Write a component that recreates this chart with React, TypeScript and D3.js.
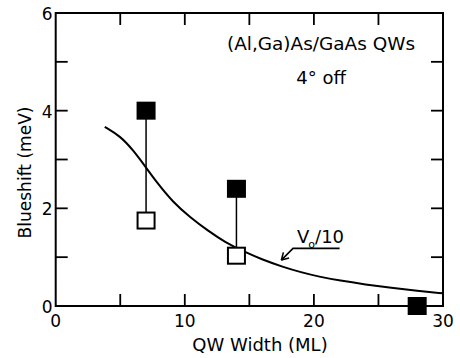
import React from "react";
import * as d3 from "d3";

// measured points (QW width in ML, blueshift in meV)
const widths = [7, 14, 28];
const filledShift = [4.0, 2.4, 0.0];
const openShift = [1.75, 1.03, null];

// V0/10 calculation curve
const curveWidth = [3.8, 5.0, 6.0, 6.9, 7.8, 9.1, 10.4, 11.8, 13.1, 14.6, 16.0, 17.6, 19.0, 20.4, 22.0, 24.0, 26.0, 28.0, 30.0];
const curveShift = [3.67, 3.48, 3.19, 2.87, 2.54, 2.12, 1.82, 1.54, 1.31, 1.11, 0.95, 0.8, 0.69, 0.6, 0.52, 0.44, 0.37, 0.31, 0.26];

const xLabels = [0, 10, 20, 30];
const yLabels = [0, 2, 4, 6];
const xMinor = [5, 10, 15, 20, 25];
const yMinor = [1, 2, 3, 4, 5];

const W = 460;
const H = 358;
const FONT = "DejaVu Sans, sans-serif";

const App: React.FC = () => {
  const x = d3.scaleLinear().domain([0, 30]).range([55.7, 443]);
  const y = d3.scaleLinear().domain([0, 6]).range([306, 13]);

  const x0 = x(0), x1 = x(30), y0 = y(0), y1 = y(6);
  const tick = 12;

  const line = d3
    .line<number>()
    .x((_, i) => x(curveWidth[i]))
    .y((d) => y(d))
    .curve(d3.curveBasis);

  // arrow for the V0/10 label
  const tipX = x(17.48), tipY = y(0.94);
  const elbX = x(18.38), elbY = y(1.18);
  const endX = x(21.99);
  const ang = Math.atan2(elbY - tipY, elbX - tipX);
  const arm = 8;
  const a1 = ang + Math.PI / 6;
  const a2 = ang - Math.PI / 6;

  const sqW = 19;
  const sqH = 18;

  return (
    <svg
      width={W}
      height={H}
      style={{ position: "absolute", left: 0, top: 0, background: "#fff" }}
      fontFamily={FONT}
    >
      {/* frame */}
      <rect x={x0} y={y1} width={x1 - x0} height={y0 - y1} fill="none" stroke="#000" strokeWidth={2} />

      {/* ticks, all inward */}
      {xMinor.map((t) => (
        <g key={"xt" + t}>
          <line x1={x(t)} x2={x(t)} y1={y0} y2={y0 - tick} stroke="#000" strokeWidth={1.8} />
          <line x1={x(t)} x2={x(t)} y1={y1} y2={y1 + tick} stroke="#000" strokeWidth={1.8} />
        </g>
      ))}
      {yMinor.map((t) => (
        <g key={"yt" + t}>
          <line x1={x0} x2={x0 + tick} y1={y(t)} y2={y(t)} stroke="#000" strokeWidth={1.8} />
          <line x1={x1} x2={x1 - tick} y1={y(t)} y2={y(t)} stroke="#000" strokeWidth={1.8} />
        </g>
      ))}

      {/* tick labels */}
      {xLabels.map((t) => (
        <text key={"xl" + t} x={x(t)} y={327} textAnchor="middle" fontSize={17}>
          {t}
        </text>
      ))}
      {yLabels.map((t) => (
        <text key={"yl" + t} x={x0 - 3} y={y(t) + 7} textAnchor="end" fontSize={17}>
          {t}
        </text>
      ))}

      {/* axis titles */}
      <text x={260} y={351} textAnchor="middle" fontSize={18}>
        QW Width (ML)
      </text>
      <text
        transform={`translate(31, 172.5) rotate(-90)`}
        textAnchor="middle"
        fontSize={17}
        textLength={132}
        lengthAdjust="spacingAndGlyphs"
      >
        Blueshift  (meV)
      </text>

      {/* annotations */}
      <text x={321} y={50} textAnchor="middle" fontSize={18} textLength={188} lengthAdjust="spacingAndGlyphs">
        (Al,Ga)As/GaAs QWs
      </text>
      <text x={321} y={84} textAnchor="middle" fontSize={18}>
        4° off
      </text>

      {/* curve */}
      <path d={line(curveShift) ?? ""} fill="none" stroke="#000" strokeWidth={2} />

      {/* arrow + label */}
      <polyline
        points={`${endX},${elbY} ${elbX},${elbY} ${tipX},${tipY}`}
        fill="none"
        stroke="#000"
        strokeWidth={1.6}
      />
      <line x1={tipX} y1={tipY} x2={tipX + arm * Math.cos(a1)} y2={tipY + arm * Math.sin(a1)} stroke="#000" strokeWidth={1.6} />
      <line x1={tipX} y1={tipY} x2={tipX + arm * Math.cos(a2)} y2={tipY + arm * Math.sin(a2)} stroke="#000" strokeWidth={1.6} />
      <text x={297} y={243} fontSize={18}>
        V
        <tspan dx={-1} dy={5} fontSize={11}>o</tspan>
        <tspan dx={0} dy={-5}>/10</tspan>
      </text>

      {/* connectors */}
      {widths.map((w, i) =>
        openShift[i] == null ? null : (
          <line
            key={"c" + i}
            x1={x(w)}
            x2={x(w)}
            y1={y(filledShift[i])}
            y2={y(openShift[i] as number)}
            stroke="#000"
            strokeWidth={1.5}
          />
        )
      )}

      {/* squares */}
      {widths.map((w, i) => (
        <rect
          key={"f" + i}
          x={x(w) - sqW / 2}
          y={y(filledShift[i]) - sqH / 2}
          width={sqW}
          height={sqH}
          fill="#000"
        />
      ))}
      {widths.map((w, i) =>
        openShift[i] == null ? null : (
          <rect
            key={"o" + i}
            x={x(w) - sqW / 2 + 1}
            y={y(openShift[i] as number) - sqH / 2 + 1}
            width={sqW - 2}
            height={sqH - 2}
            fill="#fff"
            stroke="#000"
            strokeWidth={2}
          />
        )
      )}
    </svg>
  );
};

export default App;
